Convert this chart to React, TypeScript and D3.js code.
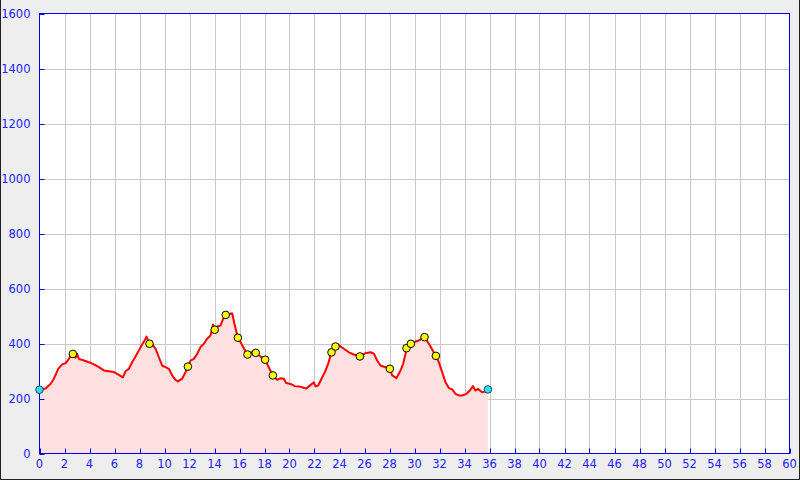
import React, { useRef, useEffect } from "react";
import * as d3 from "d3";

// elevation profile: distance (km) / elevation (m)
const distKm = [
  0, 0.48, 0.88, 1.15, 1.33, 1.49, 1.81, 2.08, 2.35, 2.56, 2.67, 2.88, 3.0, 3.15, 3.55, 3.95, 4.35,
  4.75, 5.15, 5.55, 5.95, 6.35, 6.67, 6.88, 7.15, 7.41, 7.68, 7.95, 8.21, 8.43, 8.56, 8.8, 9.01,
  9.28, 9.55, 9.81, 10.08, 10.35, 10.61, 10.88, 11.07, 11.41, 11.68, 11.87, 12.08, 12.35, 12.61,
  12.88, 13.15, 13.41, 13.68, 13.89, 14.02, 14.21, 14.48, 14.69, 14.9, 15.28, 15.41, 15.6, 15.87,
  16.08, 16.29, 16.64, 16.88, 17.3, 17.68, 18.05, 18.4, 18.67, 19.01, 19.28, 19.55, 19.73, 20.08,
  20.43, 20.75, 21.01, 21.33, 21.55, 21.95, 22.08, 22.29, 22.56, 22.83, 23.09, 23.36, 23.68, 23.95,
  24.35, 24.75, 25.15, 25.63, 26.08, 26.48, 26.75, 27.01, 27.28, 28.03, 28.21, 28.56, 28.88, 29.09,
  29.28, 29.36, 29.71, 30.08, 30.35, 30.8, 31.15, 31.71, 31.95, 32.21, 32.48, 32.75, 33.01, 33.28,
  33.55, 33.81, 34.16, 34.43, 34.67, 34.88, 35.07, 35.41, 35.63, 35.87
];
const elevM = [
  232, 236, 253, 272, 290, 308, 324, 328, 344, 362, 362, 348, 363, 344, 338, 332, 324,
  314, 302, 299, 296, 286, 277, 299, 308, 332, 353, 375, 396, 413, 425, 399, 399,
  381, 350, 320, 314, 308, 284, 268, 262, 272, 296, 316, 338, 344, 362,
  387, 399, 417, 429, 469, 450, 462, 465, 490, 504, 508, 510, 471, 421,
  405, 387, 360, 368, 366, 353, 341, 308, 284, 268, 274, 272, 256, 253,
  245, 244, 241, 236, 244, 259, 244, 247, 272, 296, 326, 368, 389, 393,
  381, 368, 360, 353, 365, 368, 363, 338, 320, 308, 284, 274, 302, 326,
  362, 383, 399, 407, 411, 423, 399, 355, 332, 296, 259, 238, 233, 217,
  211, 211, 217, 229, 245, 229, 235, 223, 225, 233
];

// waypoints (yellow) and start/end (cyan)
const waypointKm = [2.67, 8.8, 11.87, 14.02, 14.9, 15.87, 16.64, 17.3, 18.05, 18.67, 23.36, 23.68, 25.63, 28.03, 29.36, 29.71, 30.8, 31.71];
const waypointM = [362, 399, 316, 450, 504, 421, 360, 366, 341, 284, 368, 389, 353, 308, 383, 399, 423, 355];
const endKm = [0, 35.87];
const endM = [232, 233];

const xTicks = d3.range(0, 61, 2);
const yTicks = d3.range(0, 1601, 200);

const App = () => {
  const node: any = useRef();

  useEffect(() => {
    const width = 800,
      height = 480;
    const left = 39.5,
      right = 789.5,
      top = 13.5,
      bottom = 453.5;
    const axisColor = "#0000ee";
    const labelColor = "#2222ff";

    const svg = d3.select(node.current).attr("width", width).attr("height", height);
    svg.selectAll("*").remove();

    svg.append("rect").attr("width", width).attr("height", height).attr("fill", "#eeeeee");
    // dark frame edges
    const frame = svg.append("g").attr("stroke", "#222");
    frame.append("line").attr("x1", 0).attr("x2", width).attr("y1", 479.5).attr("y2", 479.5);
    frame.append("line").attr("x1", 0.5).attr("x2", 0.5).attr("y1", 0).attr("y2", height);
    frame.append("line").attr("x1", 799.5).attr("x2", 799.5).attr("y1", 0).attr("y2", height);

    const x = d3.scaleLinear().domain([0, 60]).range([left, right]);
    const y = d3.scaleLinear().domain([0, 1600]).range([bottom, top]);

    svg
      .append("rect")
      .attr("x", left)
      .attr("y", top)
      .attr("width", right - left)
      .attr("height", bottom - top)
      .attr("fill", "white");

    // grid
    const grid = svg.append("g").attr("stroke", "#c8c8c8").attr("stroke-width", 1);
    grid
      .selectAll("line.v")
      .data(xTicks.slice(1, -1))
      .enter()
      .append("line")
      .attr("x1", d => Math.round(x(d)) + 0.5)
      .attr("x2", d => Math.round(x(d)) + 0.5)
      .attr("y1", top)
      .attr("y2", bottom);
    grid
      .selectAll("line.h")
      .data(yTicks.slice(1, -1))
      .enter()
      .append("line")
      .attr("x1", left)
      .attr("x2", right)
      .attr("y1", d => Math.round(y(d)) + 0.5)
      .attr("y2", d => Math.round(y(d)) + 0.5);

    const profile = distKm.map((d, i) => [d, elevM[i]] as [number, number]);

    const area = d3
      .area<[number, number]>()
      .x(d => x(d[0]))
      .y0(y(0))
      .y1(d => y(d[1]));
    svg.append("path").datum(profile).attr("d", area).attr("fill", "#ffe0e0");

    const line = d3
      .line<[number, number]>()
      .x(d => x(d[0]))
      .y(d => y(d[1]));
    svg
      .append("path")
      .datum(profile)
      .attr("d", line)
      .attr("fill", "none")
      .attr("stroke", "#ff0000")
      .attr("stroke-width", 2)
      .attr("stroke-linejoin", "round");

    // plot frame
    svg
      .append("rect")
      .attr("x", left)
      .attr("y", top)
      .attr("width", right - left)
      .attr("height", bottom - top)
      .attr("fill", "none")
      .attr("stroke", axisColor);

    // ticks pointing inward
    const ticks = svg.append("g").attr("stroke", axisColor);
    ticks
      .selectAll("line.xt")
      .data(xTicks)
      .enter()
      .append("line")
      .attr("x1", d => Math.round(x(d)) + 0.5)
      .attr("x2", d => Math.round(x(d)) + 0.5)
      .attr("y1", bottom)
      .attr("y2", bottom - 5);
    ticks
      .selectAll("line.yt")
      .data(yTicks)
      .enter()
      .append("line")
      .attr("x1", left)
      .attr("x2", left + 5)
      .attr("y1", d => Math.round(y(d)) + 0.5)
      .attr("y2", d => Math.round(y(d)) + 0.5);

    const labels = svg
      .append("g")
      .attr("font-family", "DejaVu Sans, sans-serif")
      .attr("font-size", "11.5px")
      .attr("fill", labelColor);
    labels
      .selectAll("text.xl")
      .data(xTicks)
      .enter()
      .append("text")
      .attr("x", d => x(d))
      .attr("y", bottom + 14)
      .attr("text-anchor", "middle")
      .text(d => d);
    labels
      .selectAll("text.yl")
      .data(yTicks)
      .enter()
      .append("text")
      .attr("x", left - 9)
      .attr("y", d => y(d) + 4)
      .attr("text-anchor", "end")
      .text(d => d);

    // waypoint markers
    svg
      .append("g")
      .selectAll("circle")
      .data(waypointKm.map((d, i) => [d, waypointM[i]]))
      .enter()
      .append("circle")
      .attr("cx", d => x(d[0]))
      .attr("cy", d => y(d[1]))
      .attr("r", 3.8)
      .attr("fill", "#ffff00")
      .attr("stroke", "black")
      .attr("stroke-width", 1);
    svg
      .append("g")
      .selectAll("circle")
      .data(endKm.map((d, i) => [d, endM[i]]))
      .enter()
      .append("circle")
      .attr("cx", d => x(d[0]))
      .attr("cy", d => y(d[1]))
      .attr("r", 3.8)
      .attr("fill", "#33ddee")
      .attr("stroke", "#224466")
      .attr("stroke-width", 1);
  }, []);

  return <svg ref={node} style={{ position: "absolute", left: 0, top: 0 }}></svg>;
};

export default App;
